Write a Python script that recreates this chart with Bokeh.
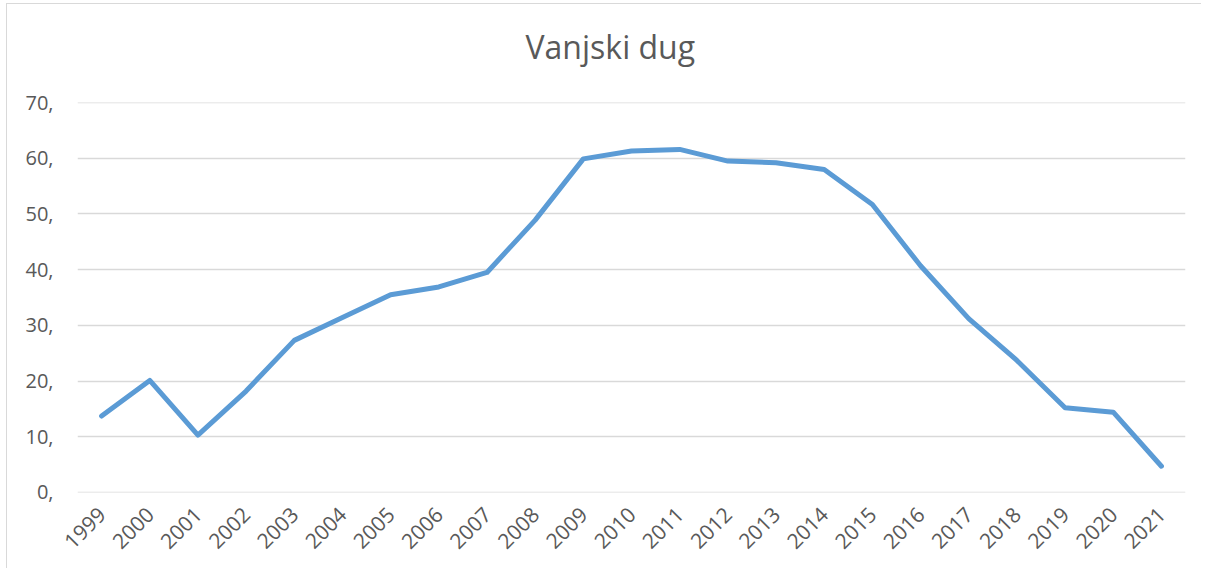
import math
from bokeh.plotting import figure
from bokeh.models import ColumnDataSource, FixedTicker, Title
from bokeh.embed import file_html
from bokeh.resources import INLINE

years = ["1999", "2000", "2001", "2002", "2003", "2004", "2005", "2006", "2007", "2008", "2009",
         "2010", "2011", "2012", "2013", "2014", "2015", "2016", "2017", "2018", "2019", "2020", "2021"]
debt = [13.7, 20.1, 10.3, 18.2, 27.3, 31.4, 35.5, 36.9, 39.5, 48.9, 59.9,
        61.3, 61.6, 59.5, 59.2, 58.0, 51.7, 40.7, 31.2, 23.7, 15.2, 14.4, 4.7]
y_ticks = [0, 10, 20, 30, 40, 50, 60, 70]
y_tick_labels = ["0,", "10,", "20,", "30,", "40,", "50,", "60,", "70,"]
title_text = "Vanjski dug"

source = ColumnDataSource(data=dict(year=years, debt=debt))

p = figure(x_range=years, y_range=(-0.02, 70.02), width=1195, height=565,
           output_backend="svg", toolbar_location=None, tools="",
           title=title_text)
p.min_border_left = 70
p.min_border_right = 17
p.min_border_top = 98
p.min_border_bottom = 77
p.outline_line_color = None
p.background_fill_color = "white"
p.border_fill_color = "white"
p.styles = {"margin-left": "6px", "margin-top": "3px",
            "border-left": "1px solid #d9d9d9", "border-top": "1px solid #d9d9d9"}

# spacer between title and plot frame
spacer = Title(text=" ", text_font_size="1px", standoff=32)
p.add_layout(spacer, "above")

p.title.align = "left"
p.title.offset = 448
p.title.standoff = 0
p.title.vertical_align = "bottom"
p.title.text_font = "Open Sans"
p.title.text_font_size = "32px"
p.title.text_font_style = "normal"
p.title.text_color = "#595959"

p.line("year", "debt", source=source, line_color="#5b9bd5", line_width=5,
       line_cap="round", line_join="round")

p.xgrid.grid_line_color = None
p.ygrid.grid_line_color = "#d9d9d9"
p.ygrid.grid_line_width = 1.5

p.yaxis.ticker = FixedTicker(ticks=y_ticks)
p.yaxis.major_label_overrides = {t: lab for t, lab in zip(y_ticks, y_tick_labels)}
p.yaxis.axis_line_color = None
p.yaxis.major_tick_line_color = None
p.yaxis.minor_tick_line_color = None
p.yaxis.major_label_standoff = 18
p.yaxis.major_label_text_font = "Open Sans"
p.yaxis.major_label_text_font_size = "20px"
p.yaxis.major_label_text_color = "#595959"

p.xaxis.axis_line_color = None
p.xaxis.major_tick_line_color = None
p.xaxis.minor_tick_line_color = None
p.xaxis.major_label_orientation = math.pi / 4
p.xaxis.major_label_standoff = 12
p.xaxis.major_label_text_font = "Open Sans"
p.xaxis.major_label_text_font_size = "21px"
p.xaxis.major_label_text_color = "#595959"

open("out.html", "w").write(file_html(p, INLINE))
